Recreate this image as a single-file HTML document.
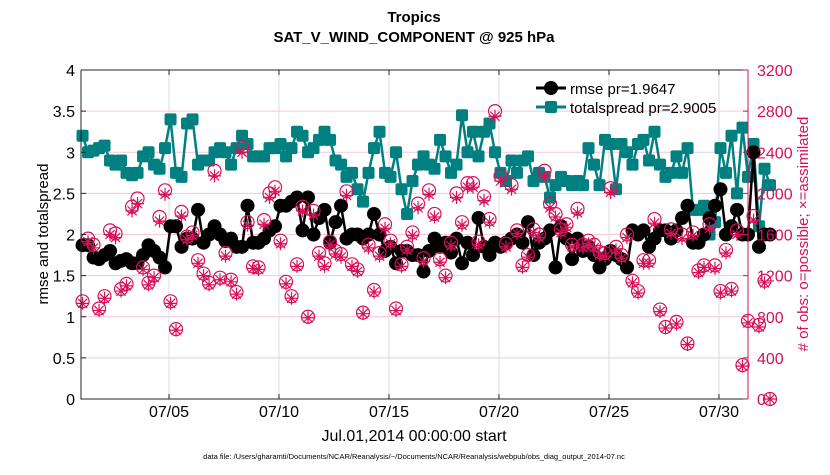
<!DOCTYPE html>
<html><head><meta charset="utf-8"><style>
body{margin:0;background:#fff;font-family:"Liberation Sans",sans-serif;}
svg text{font-family:"Liberation Sans",sans-serif;}
</style></head><body>
<svg id="chart" width="830" height="470" viewBox="0 0 830 470" xmlns="http://www.w3.org/2000/svg">
<text x="414" y="22" text-anchor="middle" font-size="15" font-weight="bold">Tropics</text>
<text x="414" y="42" text-anchor="middle" font-size="15" font-weight="bold">SAT_V_WIND_COMPONENT @ 925 hPa</text>
<g id="grid"></g>
<g id="marks"></g>
<g id="axes"></g>
<text transform="translate(48,234) rotate(-90)" text-anchor="middle" font-size="15">rmse and totalspread</text>
<text transform="translate(808,234) rotate(-90)" text-anchor="middle" font-size="15" fill="#d6115a"># of obs: o=possible; ×=assimilated</text>
<text x="414" y="441" text-anchor="middle" font-size="16">Jul.01,2014 00:00:00 start</text>
<text x="414" y="459" text-anchor="middle" font-size="7.5">data file: /Users/gharamti/Documents/NCAR/Reanalysis/~/Documents/NCAR/Reanalysis/webpub/obs_diag_output_2014-07.nc</text>
<g>
<line x1="536" y1="88" x2="566" y2="88" stroke="#000" stroke-width="3"/>
<circle cx="551" cy="88" r="7" fill="#000"/>
<text x="570" y="94" font-size="15">rmse pr=1.9647</text>
<line x1="536" y1="107" x2="566" y2="107" stroke="#008080" stroke-width="3"/>
<rect x="545" y="101" width="12" height="12" rx="2" fill="#008080"/>
<text x="570" y="113" font-size="15">totalspread pr=2.9005</text>
</g>
</svg>
<script>
const xTickLabels=["07/05","07/10","07/15","07/20","07/25","07/30"];
const xTickDays=[4,9,14,19,24,29];
const yTicks=[0,0.5,1,1.5,2,2.5,3,3.5,4];
const y2Ticks=[0,400,800,1200,1600,2000,2400,2800,3200];
const startDay=0.07, stepDay=0.25;
const rmse=[1.87,1.87,1.72,1.7,1.75,1.8,1.65,1.68,1.7,1.65,1.65,1.75,1.87,1.8,1.72,1.6,2.1,2.1,1.85,1.95,1.95,2.3,1.9,2.0,2.1,2.0,1.92,1.95,1.85,1.85,2.35,1.9,1.9,1.95,2.05,2.1,2.35,2.35,2.4,2.45,2.05,2.45,2.0,2.2,2.3,1.9,2.15,2.35,1.95,2.0,2.0,1.95,2.0,2.25,2.0,1.8,1.85,1.65,1.8,1.8,1.75,1.75,1.55,1.8,1.95,1.85,1.9,1.78,1.95,1.65,1.9,1.75,2.2,1.85,1.75,1.9,1.85,1.9,1.95,2.0,1.9,2.15,1.75,1.9,1.95,2.05,1.6,2.1,1.95,1.7,1.95,1.8,1.85,1.75,1.6,1.7,1.8,1.75,1.7,1.6,2.05,2.0,2.05,1.85,1.95,2.05,2.05,1.95,2.05,2.2,2.35,1.9,1.9,2.0,2.2,2.35,2.55,2.0,2.1,2.3,2.0,2.0,3.0,1.85,2.0,2.0];
const totalspread=[3.2,3.0,3.02,3.05,3.08,2.9,2.85,2.9,2.75,2.72,2.75,2.95,3.0,2.85,2.8,3.05,3.4,2.75,2.7,3.35,3.4,2.85,2.9,2.9,3.0,3.05,3.0,2.85,3.05,3.2,3.1,2.95,2.95,2.95,3.05,3.05,3.1,2.95,3.05,3.25,3.2,3.0,3.05,3.15,3.25,3.15,2.9,2.85,2.7,2.75,2.55,2.4,2.75,3.05,3.25,2.75,2.7,3.0,2.55,2.25,2.65,2.85,2.95,2.85,2.8,3.15,2.95,2.75,2.85,3.45,3.0,3.25,2.95,3.25,3.35,3.0,2.75,2.65,2.9,2.75,2.9,2.95,2.65,2.75,2.7,2.45,2.6,2.7,2.65,2.6,2.65,2.6,3.05,2.85,2.6,3.15,3.1,2.55,3.1,3.0,2.85,3.1,3.15,2.9,3.25,2.85,2.7,2.75,2.95,2.75,3.05,2.3,2.3,2.35,2.0,2.15,3.05,2.75,3.2,2.5,3.3,2.7,3.1,2.1,2.8,2.6];
const possible=[950,1560,1500,880,1000,1640,1610,1070,1120,1870,1950,1280,1130,1200,1770,2030,950,680,1820,1580,1620,1350,1220,1130,2220,1180,1420,1160,1040,2450,1720,1290,1280,1740,2000,2060,1540,1140,1000,1310,1870,800,1830,1420,1320,1530,1440,1410,2020,1310,1260,840,1500,1060,1420,1700,1540,880,1310,1480,1620,1900,1370,2030,1800,1360,1200,1520,2000,1720,2100,2100,1530,1970,1750,2800,2170,1510,2080,1640,1300,1400,1650,1600,2220,1900,1800,1650,1700,1500,1850,1500,1540,1500,1430,1420,2050,1480,1400,1600,1150,1050,1350,1350,1750,870,700,1650,750,1600,540,1620,1250,1300,1700,1300,1050,1450,1070,1640,330,760,1780,720,1150,0];
const assimilated=[930,1530,1470,860,980,1600,1570,1050,1100,1830,1900,1260,1110,1180,1730,1990,930,670,1780,1550,1590,1320,1200,1110,2170,1160,1390,1140,1020,2400,1690,1270,1260,1700,1960,2020,1510,1120,980,1290,1830,790,1790,1390,1290,1500,1410,1380,1980,1290,1240,830,1470,1040,1390,1660,1510,860,1290,1450,1590,1860,1340,1990,1770,1330,1180,1490,1960,1690,2060,2060,1500,1930,1720,2750,2120,1480,2040,1610,1280,1380,1620,1570,2170,1860,1770,1620,1670,1480,1810,1470,1510,1470,1400,1390,2010,1450,1370,1570,1130,1030,1320,1320,1710,850,690,1610,730,1560,530,1590,1230,1280,1660,1270,1030,1420,1050,1600,320,740,1740,700,1130,0];

const X0=81,X1=748,Y0=399,Y1=70,DMAX=30.32;
const NS="http://www.w3.org/2000/svg";
function xs(d){return X0+(d/DMAX)*(X1-X0);}
function ys(v){return Y0-(v/4)*(Y0-Y1);}
function ys2(v){return Y0-(v/3200)*(Y0-Y1);}
function el(tag,attrs,parent){const e=document.createElementNS(NS,tag);for(const k in attrs)e.setAttribute(k,attrs[k]);parent.appendChild(e);return e;}
const grid=document.getElementById('grid'),marks=document.getElementById('marks'),axes=document.getElementById('axes');

y2Ticks.forEach((v,i)=>{if(v>0&&v<3200){const l=el('line',{x1:X0,x2:X1,y1:ys2(v),y2:ys2(v),stroke:'#f3c9d8','stroke-width':1},grid);

}});
xTickDays.forEach(d=>{const l=el('line',{x1:xs(d),x2:xs(d),y1:Y1,y2:Y0,stroke:'#dcdcdc','stroke-width':1},grid);

});

function tday(i){return startDay+i*stepDay;}
// teal line
let p=totalspread.map((v,i)=>xs(tday(i))+','+ys(v)).join(' ');
const tl=el('polyline',{points:p,fill:'none',stroke:'#008080','stroke-width':2.5},marks);


totalspread.forEach((v,i)=>{const r=el('rect',{x:xs(tday(i))-6,y:ys(v)-6,width:12,height:12,rx:2,fill:'#008080'},marks);

});
// black line
p=rmse.map((v,i)=>xs(tday(i))+','+ys(v)).join(' ');
const bl=el('polyline',{points:p,fill:'none',stroke:'#000','stroke-width':2.5},marks);


rmse.forEach((v,i)=>{const c=el('circle',{cx:xs(tday(i)),cy:ys(v),r:7,fill:'#000'},marks);

});
// obs
possible.forEach((v,i)=>{const c=el('circle',{cx:xs(tday(i)),cy:ys2(v),r:6.5,fill:'none',stroke:'#d6115a','stroke-width':1.2},marks);

});
assimilated.forEach((v,i)=>{const x=xs(tday(i)),y=ys2(v),s=6.5,q=4.6;
const g=el('path',{d:`M${x-s},${y}H${x+s}M${x},${y-s}V${y+s}M${x-q},${y-q}L${x+q},${y+q}M${x-q},${y+q}L${x+q},${y-q}`,stroke:'#d6115a','stroke-width':1.2,fill:'none'},marks);

});

// axes
el('path',{d:`M${X0},${Y1}V${Y0}H${X1}M${X0},${Y1}H${X1}`,stroke:'#262626',fill:'none','stroke-width':1},axes);
el('line',{x1:X1,x2:X1,y1:Y1,y2:Y0,stroke:'#d6115a','stroke-width':1},axes);
yTicks.forEach(v=>{el('line',{x1:X0,x2:X0+5,y1:ys(v),y2:ys(v),stroke:'#262626'},axes);
const t=el('text',{x:X0-6,y:ys(v)+6,'text-anchor':'end','font-size':16},axes);t.textContent=v;

});
y2Ticks.forEach(v=>{el('line',{x1:X1-5,x2:X1,y1:ys2(v),y2:ys2(v),stroke:'#d6115a'},axes);
const t=el('text',{x:X1+9,y:ys2(v)+6,'font-size':16,fill:'#d6115a'},axes);t.textContent=v;

});
xTickDays.forEach((d,i)=>{el('line',{x1:xs(d),x2:xs(d),y1:Y0,y2:Y0-5,stroke:'#262626'},axes);el('line',{x1:xs(d),x2:xs(d),y1:Y1,y2:Y1+5,stroke:'#262626'},axes);
const t=el('text',{x:xs(d),y:417,'text-anchor':'middle','font-size':16},axes);t.textContent=xTickLabels[i];

});
</script>
</body></html>
